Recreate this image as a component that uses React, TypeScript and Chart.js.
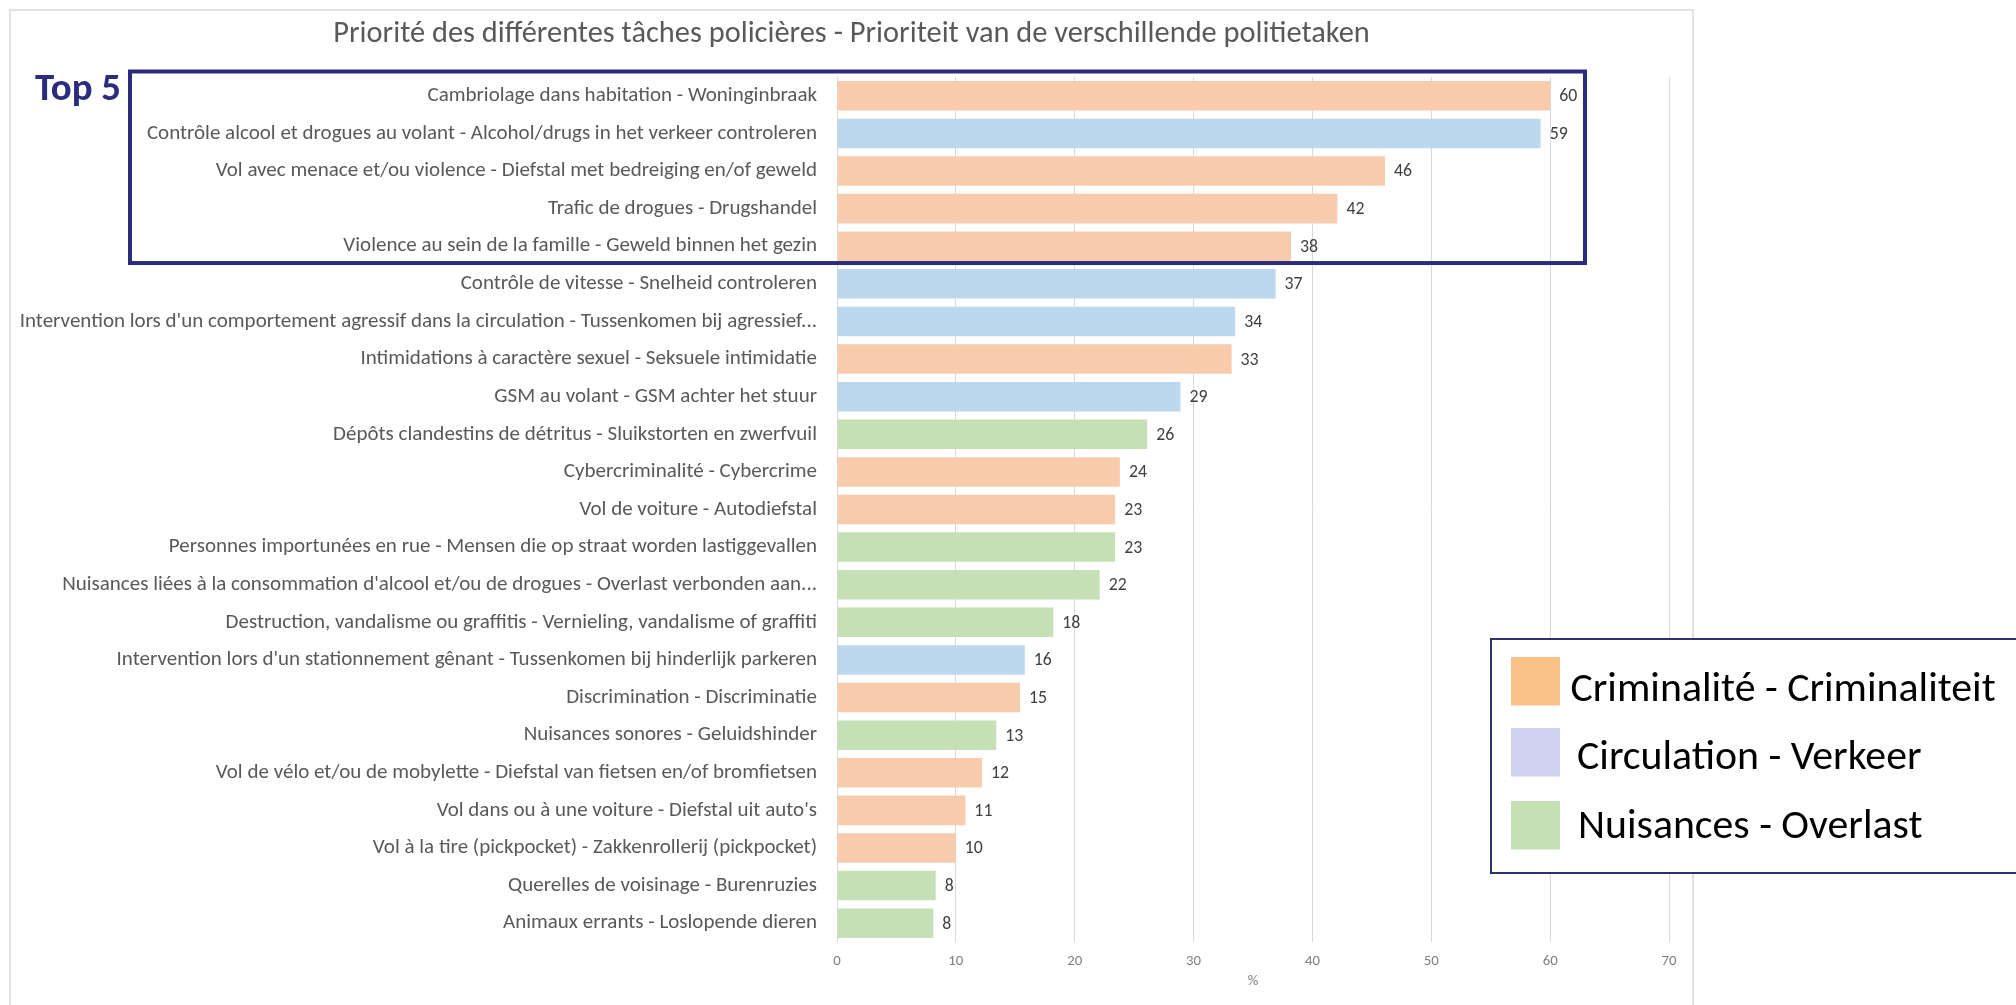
import React, { useEffect, useRef } from 'react';
import { Chart, registerables } from 'chart.js';

Chart.register(...registerables);

const TITLE = 'Priorité des différentes tâches policières - Prioriteit van de verschillende politietaken';

const CATEGORIES = [
  'Cambriolage dans habitation - Woninginbraak',
  'Contrôle alcool et drogues au volant - Alcohol/drugs in het verkeer controleren',
  'Vol avec menace et/ou violence - Diefstal met bedreiging en/of geweld',
  'Trafic de drogues - Drugshandel',
  'Violence au sein de la famille - Geweld binnen het gezin',
  'Contrôle de vitesse - Snelheid controleren',
  "Intervention lors d'un comportement agressif dans la circulation - Tussenkomen bij agressief...",
  'Intimidations à caractère sexuel - Seksuele intimidatie',
  'GSM au volant - GSM achter het stuur',
  'Dépôts clandestins de détritus - Sluikstorten en zwerfvuil',
  'Cybercriminalité - Cybercrime',
  'Vol de voiture - Autodiefstal',
  'Personnes importunées en rue - Mensen die op straat worden lastiggevallen',
  "Nuisances liées à la consommation d'alcool et/ou de drogues - Overlast verbonden aan...",
  'Destruction, vandalisme ou graffitis - Vernieling, vandalisme of graffiti',
  "Intervention lors d'un stationnement gênant - Tussenkomen bij hinderlijk parkeren",
  'Discrimination - Discriminatie',
  'Nuisances sonores - Geluidshinder',
  'Vol de vélo et/ou de mobylette - Diefstal van fietsen en/of bromfietsen',
  "Vol dans ou à une voiture - Diefstal uit auto's",
  'Vol à la tire (pickpocket) - Zakkenrollerij (pickpocket)',
  'Querelles de voisinage - Burenruzies',
  'Animaux errants - Loslopende dieren',
];

const VALUES = [60.0, 59.2, 46.1, 42.1, 38.2, 36.9, 33.5, 33.2, 28.9, 26.1, 23.8, 23.4, 23.4, 22.1, 18.2, 15.8, 15.4, 13.4, 12.2, 10.8, 10.0, 8.3, 8.1];

// 0 = Criminalité, 1 = Circulation, 2 = Nuisances
const GROUPS = [0, 1, 0, 0, 0, 1, 1, 0, 1, 2, 0, 0, 2, 2, 2, 1, 0, 2, 0, 0, 0, 2, 2];

const GROUP_NAMES = ['Criminalité - Criminaliteit', 'Circulation - Verkeer', 'Nuisances - Overlast'];
const BAR_COLORS = ['#F8CBAD', '#BDD7EE', '#C5E0B4'];
const LEGEND_COLORS = ['#FCC287', '#D0D1EE', '#C5E0B4'];

const X_TICKS = [0, 10, 20, 30, 40, 50, 60, 70];
const X_TITLE = '%';
const TOP_LABEL = 'Top 5';
const TOP_COUNT = 5;

const FONT = "Carlito, Lato, 'Open Sans', sans-serif";
const NAVY = '#2B2C7E';

function fitSize(text: string, target: number, weight = 'normal'): number {
  const c = document.createElement('canvas').getContext('2d')!;
  c.font = `${weight} 100px ${FONT}`;
  const w = c.measureText(text).width;
  return Math.round((1000 * target) / w) / 10;
}

export default function App() {
  const ref = useRef<HTMLCanvasElement | null>(null);

  useEffect(() => {
    const canvas = ref.current!;
    const titleSize = fitSize(TITLE, 1036);
    const catSize = Math.min(fitSize(CATEGORIES[1], 685), fitSize(CATEGORIES[6], 796));
    const tickSize = fitSize('10', 15);
    const dataSize = fitSize('60', 18);
    const topSize = fitSize(TOP_LABEL, 86, 'bold');
    const legendSize = fitSize(GROUP_NAMES[0], 425);

    const decor = {
      id: 'decor',
      beforeDraw(chart: any) {
        const ctx = chart.ctx as CanvasRenderingContext2D;
        ctx.save();
        ctx.fillStyle = '#ffffff';
        ctx.fillRect(0, 0, chart.width, chart.height);
        ctx.strokeStyle = '#D9D9D9';
        ctx.lineWidth = 1.5;
        ctx.strokeRect(10, 10, 1683, 1100);
        ctx.restore();
      },
      afterDatasetsDraw(chart: any) {
        const ctx = chart.ctx as CanvasRenderingContext2D;
        const meta = chart.getDatasetMeta(0);
        ctx.save();
        ctx.font = `${dataSize}px ${FONT}`;
        ctx.fillStyle = '#404040';
        ctx.textAlign = 'left';
        ctx.textBaseline = 'middle';
        meta.data.forEach((el: any, i: number) => {
          const p = el.getProps(['x', 'y'], true);
          ctx.fillText(String(Math.round(VALUES[i])), p.x + 9, p.y + 1);
        });
        ctx.restore();
      },
      afterDraw(chart: any) {
        const ctx = chart.ctx as CanvasRenderingContext2D;
        const area = chart.chartArea;
        ctx.save();
        // title
        ctx.font = `${titleSize}px ${FONT}`;
        ctx.fillStyle = '#595959';
        ctx.textAlign = 'center';
        ctx.textBaseline = 'alphabetic';
        ctx.fillText(TITLE, 851.5, 42);

        // top 5 box
        const yScale = chart.scales.y;
        const pitch = (area.bottom - area.top) / CATEGORIES.length;
        const boxBottom = yScale.getPixelForValue(TOP_COUNT - 1) + pitch / 2 - 2;
        ctx.strokeStyle = NAVY;
        ctx.lineWidth = 4;
        ctx.strokeRect(130, 71.5, 1455, boxBottom - 71.5);
        ctx.font = `bold ${topSize}px ${FONT}`;
        ctx.fillStyle = NAVY;
        ctx.textAlign = 'left';
        ctx.fillText(TOP_LABEL, 35, 100);

        // legend
        ctx.fillStyle = '#ffffff';
        ctx.fillRect(1491, 639, 560, 234);
        ctx.strokeStyle = '#2E3070';
        ctx.lineWidth = 2;
        ctx.strokeRect(1491, 639, 560, 234);
        const rowsY = [657, 728, 801];
        const textX = [1570.5, 1577, 1578];
        const baseY = [700.5, 768.5, 837.5];
        ctx.font = `${legendSize}px ${FONT}`;
        GROUP_NAMES.forEach((name, i) => {
          ctx.fillStyle = LEGEND_COLORS[i];
          ctx.fillRect(1511, rowsY[i], 49, 48.5);
          ctx.fillStyle = '#000000';
          ctx.fillText(name, textX[i], baseY[i]);
        });
        ctx.restore();
      },
    };

    const chart = new Chart(canvas, {
      type: 'bar',
      data: {
        labels: CATEGORIES,
        datasets: [
          {
            data: VALUES,
            backgroundColor: GROUPS.map((g) => BAR_COLORS[g]),
            borderWidth: 0,
            categoryPercentage: 1,
            barPercentage: 0.785,
          },
        ],
      },
      options: {
        indexAxis: 'y',
        animation: false,
        responsive: false,
        maintainAspectRatio: false,
        events: [],
        layout: { padding: { left: 10, right: 347, top: 77, bottom: 0 } },
        plugins: {
          legend: { display: false },
          title: { display: false },
          tooltip: { enabled: false },
        },
        scales: {
          x: {
            type: 'linear',
            min: X_TICKS[0],
            max: X_TICKS[X_TICKS.length - 1],
            afterFit: (s: any) => {
              s.height = 63;
            },
            ticks: {
              stepSize: X_TICKS[1] - X_TICKS[0],
              color: '#7F7F7F',
              font: { family: FONT, size: tickSize },
              padding: 10,
              maxRotation: 0,
            },
            grid: { color: '#D9D9D9', lineWidth: 1, drawTicks: false },
            border: { display: false },
            title: {
              display: true,
              text: X_TITLE,
              color: '#7F7F7F',
              font: { family: FONT, size: tickSize },
              padding: { top: 0, bottom: 15 },
            },
          },
          y: {
            afterFit: (s: any) => {
              s.width = 827;
            },
            ticks: {
              color: '#595959',
              font: { family: FONT, size: catSize },
              padding: 20,
              autoSkip: false,
            },
            grid: { display: false, drawTicks: false },
            border: { display: false },
          },
        },
      },
      plugins: [decor],
    } as any);

    return () => chart.destroy();
  }, []);

  return (
    <div style={{ position: 'fixed', left: 0, top: 0, width: 2016, height: 1005, background: '#fff' }}>
      <canvas ref={ref} width={2016} height={1005} style={{ display: 'block', width: 2016, height: 1005 }} />
    </div>
  );
}
